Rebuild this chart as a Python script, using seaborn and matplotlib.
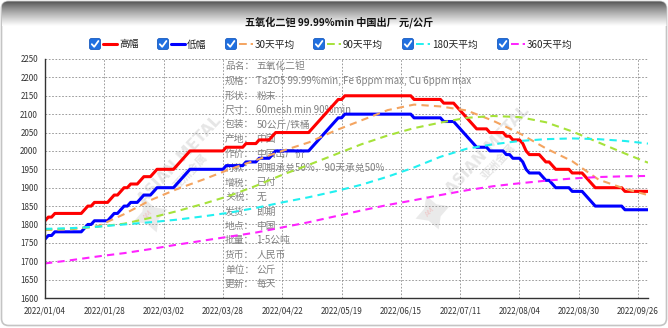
import numpy as np
import pandas as pd
import matplotlib
matplotlib.use("Agg")
import matplotlib.pyplot as plt
import seaborn as sns
from matplotlib.patches import FancyBboxPatch
from matplotlib.lines import Line2D

# ---------------- data ----------------
tick_labels = ["2022/01/04", "2022/01/28", "2022/03/02", "2022/03/28", "2022/04/22",
               "2022/05/19", "2022/06/15", "2022/07/11", "2022/08/04", "2022/08/30",
               "2022/09/26"]
tick_every = 18          # trading days between date labels
n_days = 184             # trading days shown

# daily price levels (yuan/kg) and how many trading days each level held
run_days = [1, 2, 9, 1, 2, 5, 1, 2, 1, 2, 3, 1, 3, 1, 6, 1, 1, 1, 1, 11,
            6, 4, 4, 1, 11, 1, 1, 1, 1, 1, 1, 1, 1, 2, 21, 9, 4,
            1, 1, 1, 1, 1, 1, 4, 5, 2, 3, 1, 1, 4, 1, 2, 1, 5, 4, 1, 1, 1, 9, 8]
high_levels = [1810, 1820, 1830, 1840, 1850, 1860, 1870, 1880, 1890, 1900, 1910, 1920, 1930, 1940, 1950,
               1960, 1970, 1980, 1990, 2000,
               2010, 2020, 2030, 2040, 2050, 2060, 2070, 2080, 2090, 2100, 2110, 2120, 2130, 2140,
               2150, 2140, 2130,
               2120, 2110, 2100, 2090, 2080, 2070, 2060, 2050, 2040, 2030, 2020, 2000, 1990, 1980,
               1970, 1960, 1950, 1940, 1930, 1920, 1910, 1900, 1890]
low_levels = [1760, 1770, 1780, 1790, 1800, 1810, 1820, 1830, 1840, 1850, 1860, 1870, 1880, 1890, 1900,
              1910, 1920, 1930, 1940, 1950,
              1960, 1970, 1980, 1990, 2000, 2010, 2020, 2030, 2040, 2050, 2060, 2070, 2080, 2090,
              2100, 2090, 2080,
              2070, 2060, 2050, 2040, 2030, 2020, 2010, 2000, 1990, 1980, 1970, 1950, 1940, 1930,
              1920, 1910, 1900, 1890, 1880, 1870, 1860, 1850, 1840]

# moving averages, read every 8 trading days
ma_day = [0, 8, 16, 24, 32, 40, 48, 56, 64, 72, 80, 88, 96, 104, 112, 120,
          128, 136, 144, 152, 160, 168, 176, 183]
ma30 = [1785, 1787, 1795, 1828, 1866, 1896, 1922, 1950, 1975, 2000, 2023, 2055,
        2083, 2111, 2126, 2121, 2110, 2082, 2048, 2007, 1972, 1922, 1897, 1880]
ma90 = [1786, 1789, 1794, 1802, 1818, 1836, 1856, 1878, 1905, 1935, 1962, 1990,
        2018, 2042, 2062, 2077, 2090, 2095, 2092, 2078, 2053, 2023, 1993, 1968]
ma180 = [1788, 1790, 1794, 1800, 1806, 1813, 1822, 1832, 1845, 1860, 1874, 1890,
         1908, 1930, 1955, 1984, 2006, 2018, 2027, 2032, 2034, 2032, 2027, 2020]
ma360 = [1694, 1703, 1713, 1722, 1733, 1745, 1756, 1767, 1778, 1792, 1806, 1822,
         1838, 1853, 1866, 1880, 1893, 1904, 1912, 1919, 1925, 1929, 1931, 1932]

series_names = ["高幅", "低幅", "30天平均", "90天平均", "180天平均", "360天平均"]
series_colors = ["#ff0000", "#0000ff", "#f4a460", "#a6e23a", "#22f0f0", "#ff22ff"]

info_keys = ["品名：", "规格：", "形状：", "尺寸：", "包装：", "产地：", "作价：", "付款：",
             "增税：", "关税：", "发货：", "地点：", "批量：", "货币：", "单位：", "更新："]
info_vals = ["五氧化二钽", "Ta2O5 99.99%min, Fe 6ppm max, Cu 6ppm max", "粉末",
             "60mesh min 90%min", "50公斤/铁桶", "中国", "中国出厂价",
             "即期承兑50%，90天承兑50%", "已付", "无", "即期", "中国", "1-5公吨",
             "人民币", "公斤", "每天"]

title = "五氧化二钽 99.99%min 中国出厂 元/公斤"

# ---------------- frames ----------------
day = np.arange(n_days)
price_df = pd.DataFrame({
    "day": day,
    "high": np.repeat(high_levels, run_days),
    "low": np.repeat(low_levels, run_days),
})
ma_df = pd.DataFrame({"day": ma_day, "ma30": ma30, "ma90": ma90,
                      "ma180": ma180, "ma360": ma360})

# ---------------- style ----------------
sns.set_style("white")
plt.rcParams["font.family"] = ["Noto Sans CJK SC", "DejaVu Sans"]

W, H = 668, 328
fig = plt.figure(figsize=(W / 100, H / 100), dpi=100)
fig.patch.set_facecolor("white")

# pixel-space canvas for the card, header, legend and notes
bg = fig.add_axes([0, 0, 1, 1], zorder=0)
bg.set_xlim(0, W)
bg.set_ylim(H, 0)
bg.axis("off")

card = FancyBboxPatch((1.5, 1.5), W - 3, H - 4, boxstyle="round,pad=0,rounding_size=7",
                      fc="white", ec="#c4c4c4", lw=1.2, zorder=0)
bg.add_patch(card)
grad = np.linspace(0, 1, 64).reshape(-1, 1) ** 0.8
top_rgb = np.array([0.30, 0.30, 0.30])
img = top_rgb + (1 - top_rgb) * grad[..., None]
img = np.repeat(img, 2, axis=1)
gi = bg.imshow(img, extent=(1.5, W - 1.5, 26, 1.5), aspect="auto", zorder=0.5,
               interpolation="bilinear")
gi.set_clip_path(card)

bg.text(339, 22, title, ha="center", va="center", fontsize=7.3,
        fontweight="bold", color="#111111")

# legend with check boxes
legend_x = [95, 163, 231, 319, 408, 503]
ly = 44
for i, (cx, name, col) in enumerate(zip(legend_x, series_names, series_colors)):
    bg.add_patch(FancyBboxPatch((cx - 5.5, ly - 5.5), 11, 11,
                                boxstyle="round,pad=0,rounding_size=2",
                                fc="#1f6fe0", ec="#1a5cc0", lw=0.6, zorder=3))
    bg.add_line(Line2D([cx - 3.2, cx - 0.8, cx + 3.4], [ly + 0.2, ly + 2.8, ly - 3.0],
                       color="white", lw=1.3, zorder=4, solid_capstyle="round"))
    if i < 2:
        bg.add_line(Line2D([cx + 8, cx + 22], [ly, ly], color=col, lw=2.2, zorder=3))
    else:
        bg.add_line(Line2D([cx + 8, cx + 22], [ly, ly], color=col, lw=1.4, zorder=3,
                           linestyle=(0, (4, 2))))
    bg.text(cx + 24, ly + 0.5, name, ha="left", va="center", fontsize=7, color="#222222")

# specification notes
for k, (key, val) in enumerate(zip(info_keys, info_vals)):
    yk = 66.5 + k * 14.5
    bg.text(225, yk, key, ha="left", va="center", fontsize=7, color="#808080", zorder=1)
    bg.text(256.5, yk, val, ha="left", va="center", fontsize=7, color="#808080", zorder=1)

# faint logo marks
for (cx, cy) in [(180, 160), (488, 150)]:
    bg.text(cx, cy, "ASIAN METAL", rotation=47, ha="center", va="center",
            fontsize=11, fontweight="bold", color="#c8c8c8", alpha=0.45, zorder=1,
            family=["DejaVu Sans"])
    bg.text(cx + 10, cy + 12, "亚洲金属", rotation=47, ha="center", va="center",
            fontsize=8, fontweight="bold", color="#c8c8c8", alpha=0.45, zorder=1)
for (sx, sy) in [(150, 215), (432, 212)]:
    bg.plot(sx, sy, marker=(4, 1, 20), markersize=26, color="#d9d9d9", alpha=0.55,
            zorder=1, markeredgewidth=0)
    bg.text(sx - 2, sy, "AM", rotation=47, ha="center", va="center", fontsize=5,
            color="#f0b0b0", alpha=0.6, zorder=1, family=["DejaVu Sans"])

# ---------------- chart ----------------
x0, x1 = 45, 648
y0, y1 = 59, 298
ax = fig.add_axes([x0 / W, 1 - y1 / H, (x1 - x0) / W, (y1 - y0) / H], zorder=2)
ax.patch.set_alpha(0)

sns.lineplot(data=price_df, x="day", y="high", ax=ax, color=series_colors[0],
             linewidth=2.2, estimator=None)
sns.lineplot(data=price_df, x="day", y="low", ax=ax, color=series_colors[1],
             linewidth=2.2, estimator=None)
for col_name, col in zip(["ma30", "ma90", "ma180", "ma360"], series_colors[2:]):
    sns.lineplot(data=ma_df, x="day", y=col_name, ax=ax, color=col, linewidth=1.5,
                 estimator=None, linestyle=(0, (3.5, 2.5)))

ax.set_xlim(0, n_days - 1)
ax.set_ylim(1600, 2250)
ax.set_yticks(np.arange(1600, 2251, 50))
ax.set_xticks(np.arange(len(tick_labels)) * tick_every)
ax.set_xticklabels(tick_labels)
ax.set_xlabel("")
ax.set_ylabel("")

ax.grid(True, color="#8c8c8c", linestyle=(0, (2, 2)), linewidth=0.6)
ax.set_axisbelow(True)
for side in ["top", "right"]:
    ax.spines[side].set_visible(False)
for side in ["left", "bottom"]:
    ax.spines[side].set_color("#333333")
    ax.spines[side].set_linewidth(1.0)
ax.tick_params(axis="both", length=3, width=0.8, color="#333333", labelsize=5.8,
               labelcolor="#333333", pad=2, direction="out")
ax.tick_params(axis="x", pad=3)

fig.savefig("out.png", dpi=100)
